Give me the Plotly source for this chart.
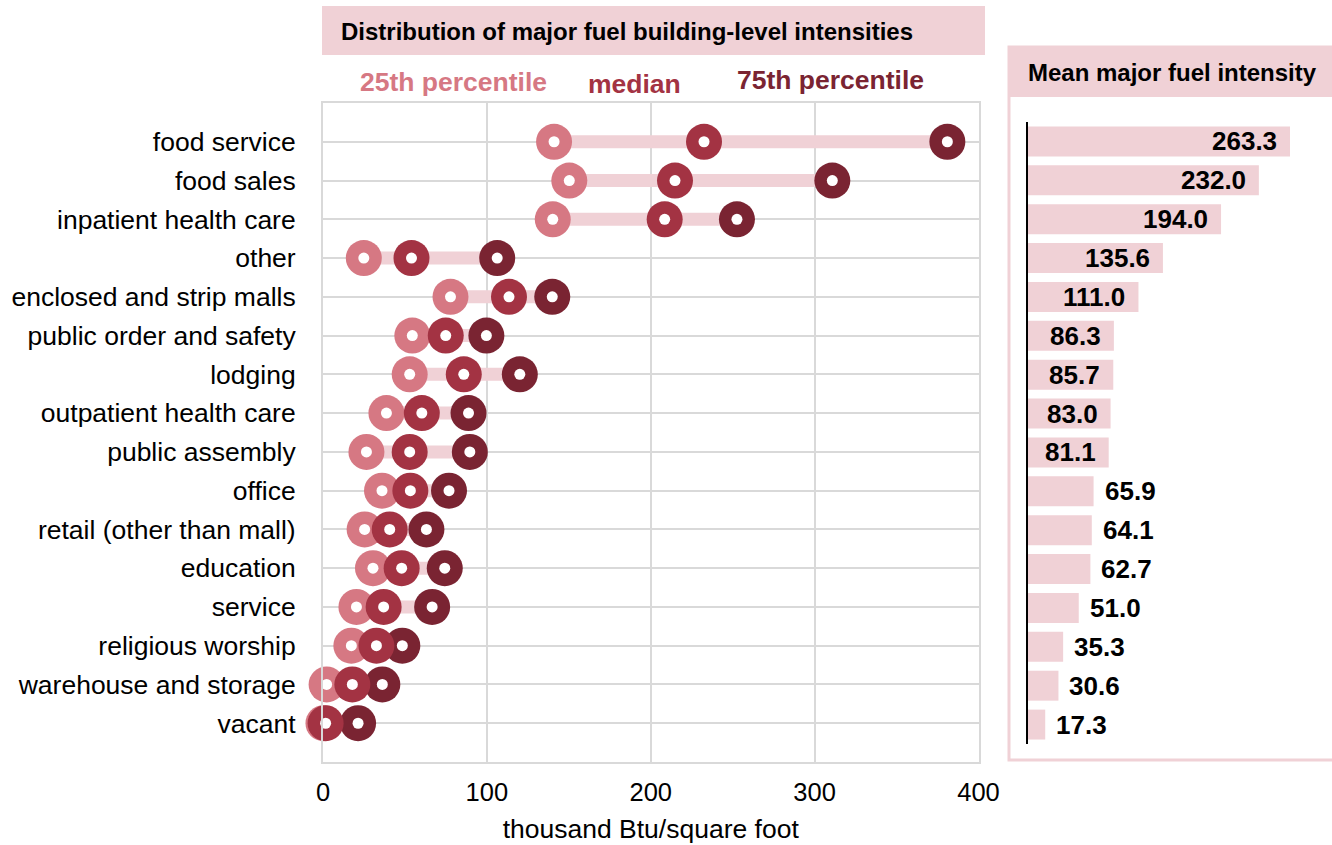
import plotly.graph_objects as go

# Building activity categories, top to bottom
categories = [
    "food service", "food sales", "inpatient health care", "other",
    "enclosed and strip malls", "public order and safety", "lodging",
    "outpatient health care", "public assembly", "office",
    "retail (other than mall)", "education", "service",
    "religious worship", "warehouse and storage", "vacant",
]

# Building-level major fuel intensity distribution (thousand Btu/sq ft)
p25 = [141.0, 150.3, 140.2, 24.9, 77.8, 54.5, 52.9, 38.7, 26.5, 36.0,
       25.4, 30.5, 20.4, 17.3, 2.2, 0.3]
median = [232.5, 214.8, 208.5, 54.0, 113.5, 74.9, 85.9, 60.3, 52.9, 53.3,
          40.7, 48.0, 37.0, 32.6, 17.9, 1.6]
p75 = [381.0, 310.8, 252.6, 106.3, 139.9, 99.7, 120.1, 88.8, 89.6, 76.9,
       63.1, 74.3, 66.6, 48.4, 36.2, 21.4]

# Mean major fuel intensity by category
mean_intensity = [263.3, 232.0, 194.0, 135.6, 111.0, 86.3, 85.7, 83.0, 81.1,
                  65.9, 64.1, 62.7, 51.0, 35.3, 30.6, 17.3]

x_ticks = [0, 100, 200, 300, 400]

W, H = 1332, 845
FONT = "Liberation Sans, Arial, sans-serif"
C25, CMED, C75 = "#D67883", "#A33343", "#7A2432"
PINK = "#F0D1D6"
GRID = "#D9D9D9"


def px_x(p):
    return p / W


def px_y(p):
    return (H - p) / H


rows = list(range(len(categories)))

fig = go.Figure()

# connector bars from 25th to 75th percentile
cx, cy = [], []
for i in rows:
    cx += [p25[i], p75[i], None]
    cy += [i, i, None]
fig.add_trace(go.Scatter(x=cx, y=cy, mode="lines",
                         line=dict(color=PINK, width=13),
                         hoverinfo="skip", showlegend=False))

for vals, col, name in [(p25, C25, "25th percentile"),
                        (p75, C75, "75th percentile"),
                        (median, CMED, "median")]:
    fig.add_trace(go.Scatter(x=vals, y=rows, mode="markers", name=name,
                             marker=dict(size=36, color=col, line=dict(width=0)),
                             cliponaxis=False, showlegend=False))
    fig.add_trace(go.Scatter(x=vals, y=rows, mode="markers",
                             marker=dict(size=11, color="white", line=dict(width=0)),
                             cliponaxis=False, hoverinfo="skip", showlegend=False))

# mean intensity bars
fig.add_trace(go.Bar(x=mean_intensity, y=rows, orientation="h", width=0.77,
                     marker=dict(color=PINK, line=dict(width=0)),
                     xaxis="x2", yaxis="y2", showlegend=False))

annotations = []
for i, v in enumerate(mean_intensity):
    inside = v >= 80
    annotations.append(dict(
        x=v, y=i, xref="x2", yref="y2", text=f"<b>{v:.1f}</b>", showarrow=False,
        xanchor="right" if inside else "left", xshift=-11 if inside else 9,
        font=dict(family=FONT, size=26, color="black")))

# panel headers and percentile key
annotations += [
    dict(x=px_x(339), y=px_y(31), xref="paper", yref="paper", showarrow=False,
         text="<b>Distribution of major fuel building-level intensities</b>",
         xanchor="left", yanchor="middle",
         font=dict(family=FONT, size=24, color="black")),
    dict(x=px_x(1026), y=px_y(72), xref="paper", yref="paper", showarrow=False,
         text="<b>Mean major fuel intensity</b>", xanchor="left", yanchor="middle",
         font=dict(family=FONT, size=24, color="black")),
    dict(x=px_x(453), y=px_y(82), xref="paper", yref="paper", showarrow=False,
         text="<b>25th percentile</b>", xanchor="center", yanchor="middle",
         font=dict(family=FONT, size=26.5, color=C25)),
    dict(x=px_x(634), y=px_y(84), xref="paper", yref="paper", showarrow=False,
         text="<b>median</b>", xanchor="center", yanchor="middle",
         font=dict(family=FONT, size=26.5, color=CMED)),
    dict(x=px_x(830), y=px_y(80), xref="paper", yref="paper", showarrow=False,
         text="<b>75th percentile</b>", xanchor="center", yanchor="middle",
         font=dict(family=FONT, size=26.5, color=C75)),
]

shapes = [
    dict(type="rect", xref="paper", yref="paper", layer="below",
         x0=px_x(322), x1=px_x(985), y0=px_y(55), y1=px_y(6),
         fillcolor=PINK, line=dict(width=0)),
    dict(type="rect", xref="paper", yref="paper", layer="below",
         x0=px_x(1009), x1=px_x(1340), y0=px_y(760), y1=px_y(47),
         fillcolor="rgba(0,0,0,0)", line=dict(color=PINK, width=3)),
    dict(type="rect", xref="paper", yref="paper", layer="below",
         x0=px_x(1008), x1=px_x(1340), y0=px_y(97), y1=px_y(46),
         fillcolor=PINK, line=dict(width=0)),
]

fig.update_layout(
    width=W, height=H, autosize=False,
    margin=dict(l=0, r=0, t=0, b=0, pad=0, autoexpand=False),
    paper_bgcolor="white", plot_bgcolor="white",
    font=dict(family=FONT, color="black"),
    showlegend=False,
    annotations=annotations,
    shapes=shapes,
    xaxis=dict(domain=[px_x(323), px_x(978.5)], range=[0, 400],
               tickvals=x_ticks, ticks="", showgrid=True, gridcolor=GRID,
               gridwidth=2, zeroline=False, showline=True, mirror=True,
               linecolor=GRID, linewidth=2, tickfont=dict(size=25.5),
               ticklabelstandoff=6, automargin=False,
               title=dict(text="thousand Btu/square foot", font=dict(size=26.5),
                          standoff=15),
               anchor="y"),
    yaxis=dict(domain=[px_y(762), px_y(103)], range=[16, -1],
               tickvals=rows, ticktext=categories, ticks="", showgrid=True,
               gridcolor=GRID, gridwidth=2, zeroline=False, showline=True,
               mirror=True, linecolor=GRID, linewidth=2,
               tickfont=dict(size=26.5), ticklabelstandoff=20,
               automargin=False, anchor="x"),
    xaxis2=dict(domain=[px_x(1028), 1.0], range=[0, 305.5], visible=False,
                automargin=False, anchor="y2"),
    yaxis2=dict(domain=[px_y(744), px_y(122)], range=[15.5, -0.5],
                showticklabels=False, ticks="", showgrid=False, zeroline=False,
                showline=True, linecolor="black", linewidth=2,
                automargin=False, anchor="x2"),
)

fig.write_html("out.html")
